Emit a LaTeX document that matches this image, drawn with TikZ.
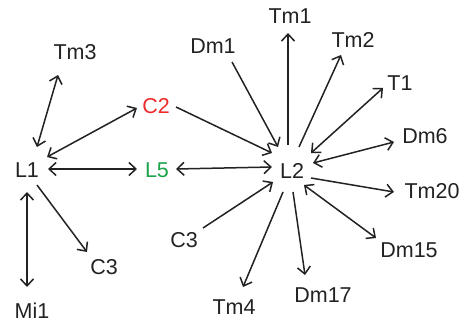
\documentclass[tikz,border=0pt]{standalone}
\usepackage{fontspec}
\setmainfont{Liberation Sans}
\usetikzlibrary{arrows.meta}
\definecolor{redc}{HTML}{EE2A2A}
\definecolor{greenc}{HTML}{1BA34A}
\definecolor{ink}{HTML}{222222}
\begin{document}
\begin{tikzpicture}[x=1pt,y=-1pt,
  lbl/.style={inner sep=0pt,text=ink,font=\fontsize{21.5}{25}\selectfont},
  conn/.style={draw=ink,line width=1.5pt,>={Straight Barb[length=7pt,width=13pt,line width=1.5pt]}}]
\useasboundingbox (0,0) rectangle (463,326);
% nodes
\node[lbl] (Tm3) at (75,52) {Tm3};
\node[lbl,text=redc] (C2) at (156,106) {C2};
\node[lbl] (L1) at (27,170) {L1};
\node[lbl,text=greenc] (L5) at (157,170) {L5};
\node[lbl] (C3a) at (104,267) {C3};
\node[lbl] (Mi1) at (32,311) {Mi1};
\node[lbl] (C3b) at (184,240) {C3};
\node[lbl] (Dm1) at (213,46) {Dm1};
\node[lbl] (L2) at (292,171) {L2};
\node[lbl] (Tm1) at (290,16) {Tm1};
\node[lbl] (Tm2) at (353,40) {Tm2};
\node[lbl] (T1) at (400,83) {T1};
\node[lbl] (Dm6) at (425,136) {Dm6};
\node[lbl] (Tm20) at (432,191) {Tm20};
\node[lbl] (Dm15) at (409,250) {Dm15};
\node[lbl] (Dm17) at (323,295) {Dm17};
\node[lbl] (Tm4) at (234,307) {Tm4};
% connectors
\draw[conn,<->] ([shift={(10,-23)}]L1.center) -- ([shift={(-17,23)}]Tm3.center);
\draw[conn,<->] ([shift={(20,-13)}]L1.center) -- ([shift={(-19,2)}]C2.center);
\draw[conn,<->] ([shift={(21,-1)}]L1.center) -- ([shift={(-20,-1)}]L5.center);
\draw[conn,->] ([shift={(10,15)}]L1.center) -- ([shift={(-17,-15)}]C3a.center);
\draw[conn,<->] ([shift={(0,22)}]L1.center) -- ([shift={(-5,-24)}]Mi1.center);
\draw[conn,->] ([shift={(20,1)}]C2.center) -- ([shift={(-20,-18)}]L2.center);
\draw[conn,<->] ([shift={(19,-1)}]L5.center) -- ([shift={(-20,-4)}]L2.center);
\draw[conn,->] ([shift={(19,-12)}]C3b.center) -- ([shift={(-19,11)}]L2.center);
\draw[conn,->] ([shift={(19,16)}]Dm1.center) -- ([shift={(-14,-24)}]L2.center);
\draw[conn,->] ([shift={(-4,-26)}]L2.center) -- ([shift={(-2,17)}]Tm1.center);
\draw[conn,->] ([shift={(7,-24)}]L2.center) -- ([shift={(-12,15)}]Tm2.center);
\draw[conn,<->] ([shift={(19,-18)}]L2.center) -- ([shift={(-17,5)}]T1.center);
\draw[conn,<->] ([shift={(21,-8)}]L2.center) -- ([shift={(-31,6)}]Dm6.center);
\draw[conn,->] ([shift={(19,7)}]L2.center) -- ([shift={(-38,1)}]Tm20.center);
\draw[conn,<->] ([shift={(12,14)}]L2.center) -- ([shift={(-33,-12)}]Dm15.center);
\draw[conn,->] ([shift={(1,21)}]L2.center) -- ([shift={(-18,-20)}]Dm17.center);
\draw[conn,->] ([shift={(-9,21)}]L2.center) -- ([shift={(9,-20)}]Tm4.center);
\end{tikzpicture}
\end{document}
